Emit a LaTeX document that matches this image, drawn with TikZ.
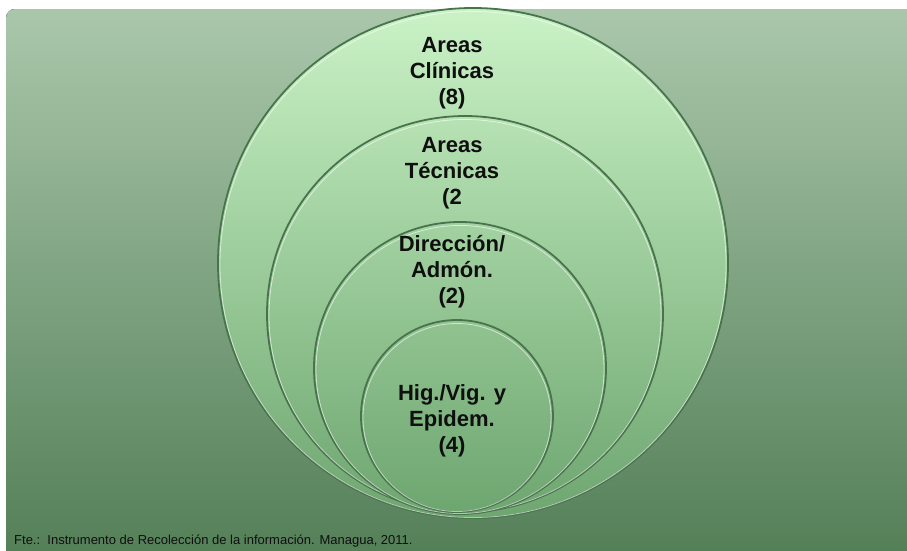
\documentclass[tikz,border=0pt]{standalone}
\usepackage{fontspec}
\setmainfont{Liberation Sans}
\definecolor{bgTop}{RGB}{170,199,171}
\definecolor{bgBot}{RGB}{82,126,86}
\definecolor{cTop}{RGB}{202,242,198}
\definecolor{cBot}{RGB}{110,166,112}
\definecolor{rimDark}{RGB}{72,116,76}
\definecolor{txt}{RGB}{15,15,15}
\tikzset{
  ring/.style={circle, inner sep=0pt, draw=rimDark, line width=1.8pt},
  hilite/.style={circle, inner sep=0pt, draw=white, draw opacity=0.6, line width=0.8pt},
  lbl/.style={align=center, text=txt, font=\bfseries\fontsize{22}{26}\selectfont},
}
\begin{document}
\begin{tikzpicture}[x=1pt,y=-1pt]
\useasboundingbox (0,0) rectangle (907,550);
\fill[white] (0,0) rectangle (907,550);
\fill[rounded corners=9pt, top color=bgTop, bottom color=bgBot] (6,9) rectangle (920,565);

% circles (outer to inner)
\node[ring, minimum size=510pt, top color=cTop, bottom color=cBot] (c1) at (473,263) {};
\node[hilite, minimum size=506pt] (h1) at (473,264.5) {};
\node[ring, minimum size=396pt, top color=cBot!21!cTop, bottom color=cBot] (c2) at (465,314) {};
\node[hilite, minimum size=392pt] (h2) at (465,315.5) {};
\node[ring, minimum size=292pt, top color=cBot!42!cTop, bottom color=cBot] (c3) at (460,368) {};
\node[hilite, minimum size=288pt] (h3) at (460,369.5) {};
\node[ring, minimum size=192pt, top color=cBot!62!cTop, bottom color=cBot] (c4) at (457,416) {};
\node[hilite, minimum size=188pt] (h4) at (457,417.5) {};

% labels
\node[lbl] (l1) at (452,73) {Areas\\Clínicas\\(8)};
\node[lbl] (l2) at (452,173) {Areas\\Técnicas\\(2};
\node[lbl] (l3) at (452,272) {Dirección/\\Admón.\\(2)};
\node[lbl] (l4) at (452,421) {Hig./Vig. y\\Epidem.\\(4)};

% source note
\node[anchor=base west, inner sep=0pt, text=txt, font=\fontsize{13}{15}\selectfont] (src) at (14,544) {Fte.:\ \ Instrumento de Recolección de la información. Managua, 2011.};
\end{tikzpicture}
\end{document}
